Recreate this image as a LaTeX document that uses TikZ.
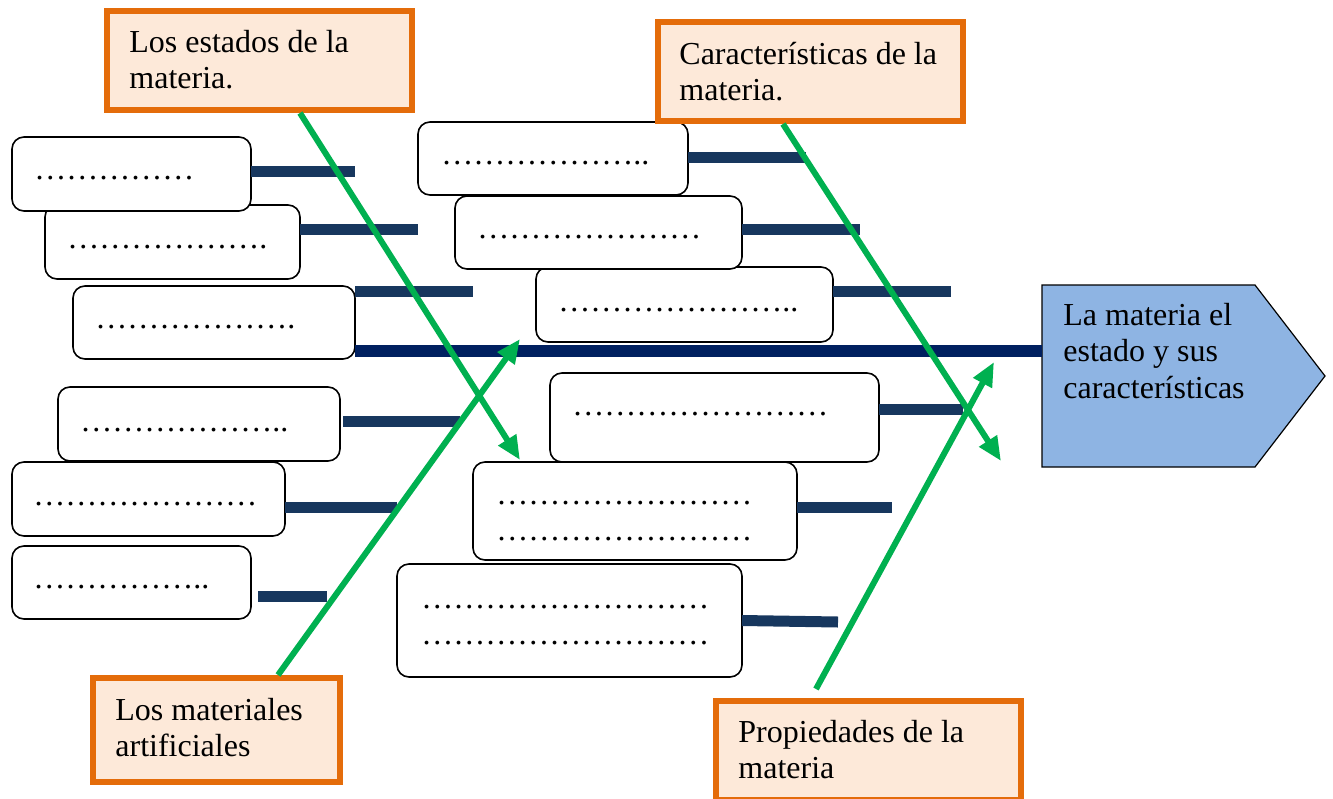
\documentclass[tikz,border=0pt]{standalone}
\usepackage{fontspec}
\setmainfont{Liberation Serif}
\usetikzlibrary{arrows.meta,calc}

\definecolor{topicline}{RGB}{228,108,10}
\definecolor{topicfill}{RGB}{253,233,217}
\definecolor{headfill}{RGB}{142,180,227}
\definecolor{bonegreen}{RGB}{0,176,80}
\definecolor{spinenavy}{RGB}{0,32,96}
\definecolor{ribnavy}{RGB}{23,55,94}

\tikzset{
    slot/.style={draw=black, line width=0.8pt, fill=white, rounded corners=6pt,
        anchor=north west, inner sep=0pt, outer sep=0pt},
    topic/.style={draw=topicline, line width=3pt, fill=topicfill, anchor=north west,
        inner sep=0pt, outer sep=1.5pt, minimum width=152.5pt, minimum height=49.5pt},
    rib/.style={draw=ribnavy, line width=5.5pt},
    spine/.style={draw=spinenavy, line width=6pt},
    bone/.style={draw=bonegreen, line width=3pt, -{Triangle[length=12pt,width=10pt]}},
    dots/.style={anchor=base west, inner sep=0pt, font=\fontsize{16pt}{18.4pt}\selectfont},
    caption/.style={anchor=north west, inner sep=0pt, align=left,
        font=\fontsize{16pt}{18.4pt}\selectfont},
}

\begin{document}
\begin{tikzpicture}[x=0.5pt, y=-0.5pt]

        \useasboundingbox (0,0) rectangle (1333,798);
        \clip (0,0) rectangle (1333,798);

        % top left
        \begin{scope}
            \node[slot, minimum width=141pt, minimum height=36.5pt] (b3) at (73,286) {};
            \node[slot, minimum width=127.5pt, minimum height=37pt] (b2) at (45,205) {};
            \node[slot, minimum width=119.5pt, minimum height=37pt] (b1) at (12,137) {};

            \node[dots] (d1) at (34,179) {……………};
            \node[dots] (d2) at (67,248) {……………….};
            \node[dots] (d3) at (95,328) {……………….};

            \coordinate (r1) at (355,171);
            \coordinate (r2) at (418,229);
            \coordinate (r3) at (473,291);
            \draw[rib] (b1.east |- r1) -- (r1);
            \draw[rib] (b2.east |- r2) -- (r2);
            \draw[rib] (b3.east |- r3) -- (r3);
        \end{scope}

        % top right
        \begin{scope}
            \node[slot, minimum width=148.5pt, minimum height=37.5pt] (b6) at (536,267) {};
            \node[slot, minimum width=143.5pt, minimum height=36.5pt] (b5) at (455,196) {};
            \node[slot, minimum width=135pt, minimum height=36.5pt] (b4) at (418,122) {};

            \node[dots] (d4) at (441,164) {………………..};
            \node[dots] (d5) at (477,238) {…………………};
            \node[dots] (d6) at (558,311) {…………………..};

            \coordinate (r4) at (806,157);
            \coordinate (r5) at (860,229);
            \coordinate (r6) at (951,291);
            \draw[rib] (b4.east |- r4) -- (r4);
            \draw[rib] (b5.east |- r5) -- (r5);
            \draw[rib] (b6.east |- r6) -- (r6);
        \end{scope}

        % bottom left
        \begin{scope}
            \node[slot, minimum width=141pt, minimum height=37pt] (b7) at (58,387) {};
            \node[slot, minimum width=136.5pt, minimum height=37pt] (b8) at (12,462) {};
            \node[slot, minimum width=119.5pt, minimum height=36.5pt] (b9) at (12,546) {};

            \node[dots] (d7) at (80,431) {………………..};
            \node[dots] (d8) at (33,505) {…………………};
            \node[dots] (d9) at (33,588) {……………..};

            \coordinate (r7) at (460,421);
            \coordinate (r8) at (397,507);
            \coordinate (r9) at (327,596);
            \draw[rib] ($(b7.east |- r7)+(3,0)$) -- (r7);
            \draw[rib] (b8.east |- r8) -- (r8);
            \draw[rib] ($(b9.east |- r9)+(7,0)$) -- (r9);
        \end{scope}

        % bottom right
        \begin{scope}
            \node[slot, minimum width=164.5pt, minimum height=44.5pt] (b10) at (550,373) {};
            \node[slot, minimum width=162pt, minimum height=49pt] (b11) at (473,462) {};
            \node[slot, minimum width=172.5pt, minimum height=56.5pt] (b12) at (397,564) {};

            \node[dots] (d10) at (572,415) {……………………};
            \node[caption] (d11) at (496,478) {\strut ……………………\\……………………};
            \node[caption] (d12) at (421,582) {\strut ………………………\\………………………};

            \coordinate (r10) at (963,409);
            \coordinate (r11) at (892,507);
            \coordinate (r12) at (838,622);
            \draw[rib] (b10.east |- r10) -- (r10);
            \draw[rib] (b11.east |- r11) -- (r11);
            \draw[rib] (b12.east) -- (r12);
        \end{scope}

        % head
        \draw[line width=0.6pt, fill=headfill] (1042,285) -- (1255,285) -- (1325,376)
            -- (1255,467) -- (1042,467) -- cycle;
        \node[caption] (head) at (1063,299) {\strut La materia el\\estado y sus\\características};
        \coordinate (headw) at (1042,351);
        \draw[spine] (b3.east |- headw) -- (headw);

        % bones
        \node[topic] (A) at (104,8) {};
        \node[topic] (B) at (655,19) {};
        \node[topic, minimum width=123.5pt, minimum height=52pt] (C) at (90,675) {};
        \node[topic] (D) at (713,698) {};

        \node[caption] (At) at (129,26) {\strut Los estados de la\\materia.};
        \node[caption] (Bt) at (679,38) {\strut Características de la\\materia.};
        \node[caption] (Ct) at (115,694) {\strut Los materiales\\artificiales};
        \node[caption] (Dt) at (738,716) {\strut Propiedades de la\\materia};

        \coordinate (g1) at (520,460);
        \coordinate (g2) at (520,339);
        \coordinate (g3) at (1001,461);
        \coordinate (g4) at (994,362);
        \coordinate (g4tail) at (816,689);

        \draw[bone] ([xshift=98pt]A.south west) -- (g1);
        \draw[bone] ([xshift=94pt]C.north west) -- (g2);
        \draw[bone] ([xshift=64pt]B.south west) -- (g3);
        \draw[bone] (g4tail) -- (g4);

\end{tikzpicture}
\end{document}
